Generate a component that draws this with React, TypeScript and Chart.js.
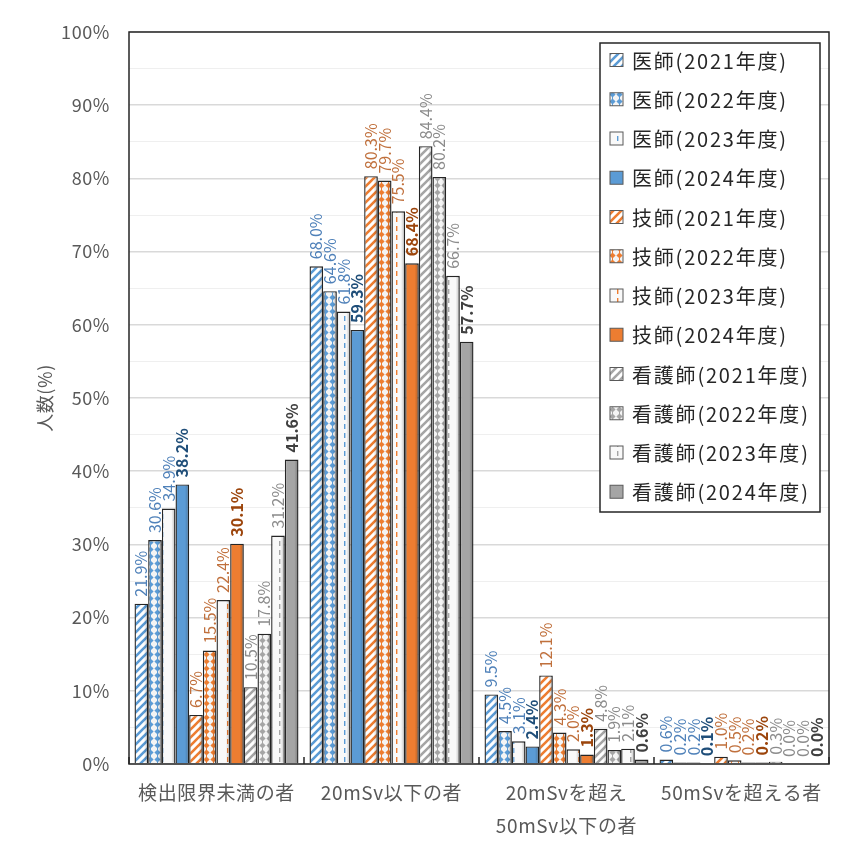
import React, { useEffect, useRef } from "react";
import Chart from "chart.js/auto";

const categories = ["検出限界未満の者", "20mSv以下の者", ["20mSvを超え", "50mSv以下の者"], "50mSvを超える者"];

const doctor2021 = [21.9, 68.0, 9.5, 0.6];
const doctor2022 = [30.6, 64.6, 4.5, 0.2];
const doctor2023 = [34.9, 61.8, 3.1, 0.2];
const doctor2024 = [38.2, 59.3, 2.4, 0.1];
const tech2021 = [6.7, 80.3, 12.1, 1.0];
const tech2022 = [15.5, 79.7, 4.3, 0.5];
const tech2023 = [22.4, 75.5, 2.0, 0.2];
const tech2024 = [30.1, 68.4, 1.3, 0.2];
const nurse2021 = [10.5, 84.4, 4.8, 0.3];
const nurse2022 = [17.8, 80.2, 1.9, 0.0];
const nurse2023 = [31.2, 66.7, 2.1, 0.0];
const nurse2024 = [41.6, 57.7, 0.6, 0.0];

const jobs = ["医師", "技師", "看護師"];
const years = ["2021", "2022", "2023", "2024"];
const seriesValues = [
  doctor2021, doctor2022, doctor2023, doctor2024,
  tech2021, tech2022, tech2023, tech2024,
  nurse2021, nurse2022, nurse2023, nurse2024,
];

const FONT = "'Noto Sans CJK JP', 'Noto Sans', sans-serif";
const baseColors = ["#5b9bd5", "#ed7d31", "#a5a5a5"];
const labelColors = ["#4f81b9", "#c0703c", "#8c8c8c"];
const boldColors = ["#1f4e79", "#9c450c", "#404040"];

function makePattern(ctx: CanvasRenderingContext2D, kind: number, color: string) {
  const c = document.createElement("canvas");
  const g = c.getContext("2d")!;
  if (kind === 0) {
    c.width = 8; c.height = 8;
    g.fillStyle = "#ffffff"; g.fillRect(0, 0, 8, 8);
    g.strokeStyle = color; g.lineWidth = 2.6;
    g.beginPath();
    g.moveTo(-4, 4); g.lineTo(4, -4);
    g.moveTo(0, 8); g.lineTo(8, 0);
    g.moveTo(4, 12); g.lineTo(12, 4);
    g.stroke();
  } else if (kind === 1) {
    c.width = 7; c.height = 7;
    g.fillStyle = "#f4f4f4"; g.fillRect(0, 0, 7, 7);
    g.fillStyle = color;
    g.beginPath();
    g.moveTo(3.5, 0.4); g.lineTo(6.6, 3.5); g.lineTo(3.5, 6.6); g.lineTo(0.4, 3.5);
    g.closePath(); g.fill();
    g.fillRect(3, 0, 1, 7);
  } else if (kind === 2) {
    c.width = 13; c.height = 9;
    g.fillStyle = "#f9f9f9"; g.fillRect(0, 0, 13, 9);
    g.fillStyle = color;
    g.fillRect(6, 1, 1.4, 5);
  } else {
    return color;
  }
  return ctx.createPattern(c, "repeat") as CanvasPattern;
}

const App = () => {
  const chartRef = useRef<HTMLCanvasElement>(null);
  const chartInstance = useRef<Chart>();

  useEffect(() => {
    if (chartInstance.current) chartInstance.current.destroy();
    const ctx = chartRef.current?.getContext("2d");
    if (!ctx) return;

    const fills = seriesValues.map((_, i) => makePattern(ctx, i % 4, baseColors[Math.floor(i / 4)]));
    const names = seriesValues.map((_, i) => `${jobs[Math.floor(i / 4)]}(${years[i % 4]}年度)`);

    const spacing = {
      id: "spacing",
      beforeDraw(chart: any) {
        (chart.ctx as any).letterSpacing = "0.6px";
      },
    };

    const barLabels = {
      id: "barLabels",
      afterDatasetsDraw(chart: any) {
        const c = chart.ctx;
        // slight bevel shading on the right edge of each bar
        chart.data.datasets.forEach((_ds: any, i: number) => {
          chart.getDatasetMeta(i).data.forEach((bar: any) => {
            const h = bar.base - bar.y;
            if (h < 3) return;
            const r = bar.x + bar.width / 2 - 0.7;
            const grd = c.createLinearGradient(r - 3.5, 0, r, 0);
            grd.addColorStop(0, "rgba(0,0,0,0)");
            grd.addColorStop(1, "rgba(0,0,0,0.22)");
            c.save();
            c.fillStyle = grd;
            c.fillRect(r - 3.5, bar.y + 0.7, 3.5, h - 1.4);
            c.restore();
          });
        });
        chart.data.datasets.forEach((ds: any, i: number) => {
          const meta = chart.getDatasetMeta(i);
          const bold = i % 4 === 3;
          const job = Math.floor(i / 4);
          meta.data.forEach((bar: any, j: number) => {
            c.save();
            (c as any).letterSpacing = "0px";
            c.translate(bar.x, bar.y - 7);
            c.rotate(-Math.PI / 2);
            c.font = `${bold ? "bold " : ""}16px ${FONT}`;
            c.fillStyle = bold ? boldColors[job] : labelColors[job];
            c.textAlign = "left";
            c.textBaseline = "middle";
            c.fillText(ds.data[j].toFixed(1) + "%", 0, 0);
            c.restore();
          });
        });
      },
    };

    const frame = {
      id: "frame",
      afterDraw(chart: any) {
        const c = chart.ctx;
        const { left, top, right, bottom } = chart.chartArea;
        const x = chart.scales.x;
        c.save();
        c.strokeStyle = "#262626";
        c.lineWidth = 1.5;
        c.strokeRect(left, top, right - left, bottom - top);
        const step = x.getPixelForValue(1) - x.getPixelForValue(0);
        c.beginPath();
        for (let i = 0; i <= categories.length; i++) {
          const px = x.getPixelForValue(i) - step / 2;
          c.moveTo(px, bottom);
          c.lineTo(px, bottom - 7);
        }
        c.stroke();

        // legend
        const lx = 600, ly = 43, lw = 220, lh = 469;
        c.fillStyle = "#ffffff";
        c.fillRect(lx, ly, lw, lh);
        c.strokeStyle = "#262626";
        c.lineWidth = 1.5;
        c.strokeRect(lx, ly, lw, lh);
        (c as any).letterSpacing = "1.8px";
        names.forEach((n, i) => {
          const cy = 60 + i * 39.25;
          c.fillStyle = fills[i] as any;
          c.fillRect(610, cy - 6.5, 13, 13);
          c.strokeStyle = "#595959";
          c.lineWidth = 1;
          c.strokeRect(610, cy - 6.5, 13, 13);
          c.fillStyle = "#262626";
          c.font = `20px ${FONT}`;
          c.textAlign = "left";
          c.textBaseline = "middle";
          c.fillText(n, 632, cy + 1);
        });
        c.restore();
      },
    };

    chartInstance.current = new Chart(ctx, {
      type: "bar",
      data: {
        labels: categories as any,
        datasets: seriesValues.map((v, i) => ({
          label: names[i],
          data: v,
          backgroundColor: fills[i] as any,
          borderColor: "#262626",
          borderWidth: 1.4,
          categoryPercentage: 0.937,
          barPercentage: 1.0,
        })),
      },
      options: {
        responsive: true,
        maintainAspectRatio: false,
        animation: false,
        layout: { padding: { left: 0, top: 32, right: 29, bottom: 0 } },
        plugins: {
          legend: { display: false },
          tooltip: { enabled: false },
        },
        scales: {
          x: {
            grid: { display: false, drawTicks: false },
            border: { display: false },
            ticks: {
              color: "#595959",
              font: { family: FONT, size: 19, lineHeight: 1.74 },
              padding: 12,
              maxRotation: 0,
              autoSkip: false,
            },
            afterFit: (s: any) => { s.height = 96; },
          },
          y: {
            min: 0,
            max: 100,
            border: { display: false },
            grid: {
              drawTicks: false,
              color: (c: any) => (c.tick.value % 10 === 0 ? "#d9d9d9" : "#efefef"),
              lineWidth: (c: any) => (c.tick.value % 10 === 0 ? 1.5 : 1),
            },
            ticks: {
              stepSize: 5,
              padding: 19,
              color: "#595959",
              font: { family: FONT, size: 18 },
              callback: (v: any) => (v % 10 === 0 ? v + "%" : ""),
            },
            title: {
              display: true,
              text: "人数(%)",
              color: "#595959",
              font: { family: FONT, size: 18 },
              padding: { top: 34, bottom: 0 },
            },
            afterFit: (s: any) => { s.width = 129; },
          },
        },
      },
      plugins: [spacing, barLabels, frame],
    });

    return () => {
      if (chartInstance.current) chartInstance.current.destroy();
    };
  }, []);

  return (
    <div style={{ position: "absolute", left: 0, top: 0, width: "858px", height: "860px", background: "#ffffff" }}>
      <canvas ref={chartRef} />
    </div>
  );
};

export default App;
